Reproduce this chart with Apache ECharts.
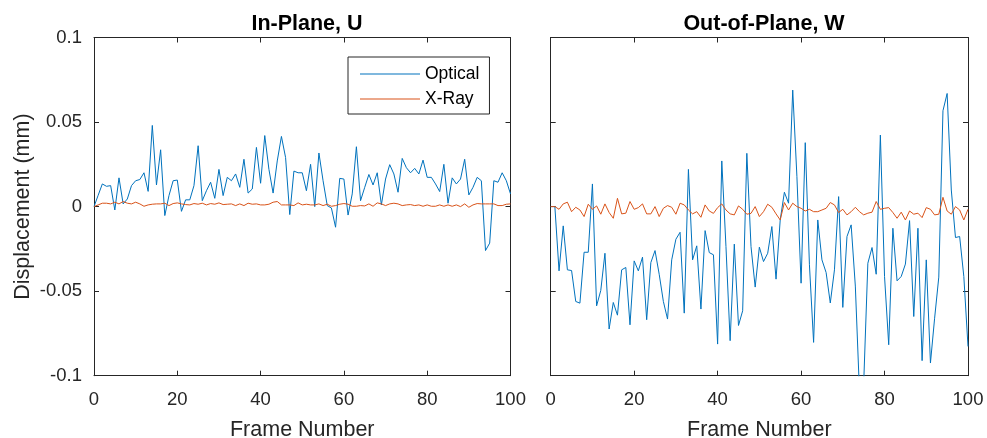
<!DOCTYPE html>
<html>
<head>
<meta charset="utf-8">
<script src="https://cdn.jsdelivr.net/npm/echarts@6/dist/echarts.min.js"></script>
<style>
html,body{margin:0;padding:0;background:#fff;}
#chart{width:987px;height:438px;}
</style>
</head>
<body>
<div id="chart"></div>
<script>
// Frame numbers 0..100
const frames = [];
for (let i = 0; i <= 100; i++) frames.push(i);

const panelTitles = ['In-Plane, U', 'Out-of-Plane, W'];
const seriesNames = ['Optical', 'X-Ray'];
const xTicks = [0, 20, 40, 60, 80, 100];
const yTicks = [-0.1, -0.05, 0, 0.05, 0.1];

// In-plane U, optical
const opticalU = [
  0, 0.0067, 0.0134, 0.012, 0.0124, -0.002, 0.017, 0.0016, 0.0045, 0.0124,
  0.0153, 0.016, 0.020, 0.009, 0.048, 0.0128, 0.0336, -0.0053, 0.0065, 0.0153,
  0.0157, -0.0028, 0.004, 0.004, 0.0124, 0.036, 0.0035, 0.0094, 0.0144, 0.0049,
  0.022, 0.0065, 0.0173, 0.0153, 0.0193, 0.0114, 0.028, 0.008, 0.0104, 0.035,
  0.0138, 0.042, 0.022, 0.008, 0.027, 0.0415, 0.029, -0.0047, 0.021, 0.020,
  0.020, 0.0094, 0.025, 0, 0.0317, 0.0153, 0.0006, -0.0008, -0.0122, 0.0167,
  0.0163, -0.005, 0.0075, 0.0354, 0.0035, 0.0114, 0.019, 0.0128, 0.020, 0.001,
  0.0163, 0.0248, 0.0193, 0.0085, 0.0285, 0.023, 0.020, 0.0226, 0.0193, 0.0275,
  0.0173, 0.0173, 0.0134, 0.0089, 0.025, 0.002, 0.017, 0.0134, 0.0163, 0.028,
  0.0069, 0.0114, 0.0173, 0.0153, -0.026, -0.0216, 0.0153, 0.0144, 0.020, 0.0153,
  0.0075
];

// In-plane U, X-ray
const xrayU = [
  0, 0.001, 0.002, 0.002, 0.0016, 0.0026, 0.0016, 0.003, 0.002, 0.0016,
  0.0026, 0.0016, 0.0002, 0.001, 0.0014, 0.0016, 0.0016, 0.002, 0.0006, 0.0018,
  0.0022, 0.0016, 0.0012, 0.001, 0.0018, 0.0014, 0.002, 0.001, 0.0018, 0.0014,
  0.0022, 0.0012, 0.0014, 0.0016, 0.0006, 0.0016, 0.0006, 0.002, 0.0014, 0.0016,
  0.001, 0.001, 0.0014, 0.0026, 0.003, 0.001, 0.001, 0.001, 0.0006, 0.0022,
  0.001, 0.0014, 0.001, 0.001, 0.0016, 0.0006, 0.0014, 0.0002, 0.0006, 0.0014,
  0.0018, 0.0014, 0.0002, 0.0002, 0.0006, 0.0004, 0.0016, 0.0002, 0.0022, 0.0016,
  0.0006, 0.0016, 0.002, 0.0016, 0.0006, 0.001, 0.0012, 0.0006, 0.001, 0.0002,
  0.001, 0.0002, 0.0002, 0.001, 0.0002, 0.001, 0.0002, 0.001, 0, 0.0016,
  -0.0004, 0.001, 0.0018, 0.0016, 0.0016, 0.0016, 0.0016, 0.0006, 0.0006, 0.0014,
  0.0016
];

// Out-of-plane W, optical
const opticalW = [
  0, 0, -0.038, -0.0114, -0.0374, -0.0378, -0.0561, -0.0571, -0.027, -0.027,
  0.0134, -0.0587, -0.0496, -0.0276, -0.0724, -0.0567, -0.0642, -0.0374, -0.036, -0.0699,
  -0.0321, -0.038, -0.0299, -0.0669, -0.0331, -0.026, -0.040, -0.0561, -0.0665, -0.0315,
  -0.0193, -0.0152, -0.063, 0.022, -0.0315, -0.0232, -0.0606, -0.0142, -0.0272, -0.0285,
  -0.0813, 0.027, -0.0236, -0.0793, -0.0222, -0.0703, -0.0616, 0.0315, -0.0236, -0.0476,
  -0.024, -0.0325, -0.0276, -0.0118, -0.0429, -0.0079, 0.0085, 0.002, 0.0689, 0.0177,
  -0.0453, 0.0378, -0.0344, -0.0803, -0.0079, -0.0315, -0.039, -0.057, -0.0374, 0.0059,
  -0.0596, -0.0177, -0.0108, -0.047, -0.11, -0.105, -0.0335, -0.0242, -0.04, 0.0423,
  -0.0413, -0.0817, -0.0128, -0.0439, -0.0413, -0.034, -0.0083, -0.065, -0.0128, -0.0911,
  -0.0315, -0.0925, -0.066, -0.0417, 0.0567, 0.0669, 0.0098, -0.0183, -0.0177, -0.0413,
  -0.0827
];

// Out-of-plane W, X-ray
const xrayW = [
  0, 0, -0.0016, 0.0016, 0.0026, -0.003, -0.0004, -0.002, -0.0059, 0.0014,
  -0.0016, 0.0004, -0.0045, 0.0016, -0.0035, -0.0069, 0.0049, -0.0043, -0.0039, 0.003,
  -0.0016, -0.0006, 0.0016, -0.0043, -0.0043, 0, -0.0059, -0.001, 0.0006, -0.0004,
  -0.0045, 0.002, 0.001, -0.002, -0.0043, -0.003, -0.0063, 0.001, -0.0026, -0.004,
  -0.0006, 0.0016, -0.002, -0.0043, -0.0049, 0.0004, -0.0016, -0.0045, -0.004, 0,
  -0.0059, -0.003, 0.0014, -0.0004, -0.0043, -0.0079, 0.0024, -0.002, 0.002, 0,
  -0.001, -0.0026, -0.0016, -0.003, -0.003, -0.002, -0.001, 0.0024, 0.001, -0.0035,
  -0.0016, -0.0049, -0.003, -0.0004, -0.003, -0.0049, -0.0039, -0.0033, 0.003, -0.0016,
  -0.001, -0.0006, -0.0035, -0.0069, -0.0033, -0.0079, -0.0026, -0.0045, -0.0039, -0.0065,
  -0.0006, -0.0016, -0.0049, -0.0045, 0.0055, -0.0026, -0.0045, 0, -0.002, -0.0079,
  -0.0016
];

const FONT = 'Liberation Sans, Arial, Helvetica, sans-serif';
const AX = '#262626';
const BLUE = '#0072BD';
const ORANGE = '#D95319';

function pairs(ys) { return frames.map((f, i) => [f, ys[i]]); }

function xAxisDef(grid, pos, labels) {
  return {
    type: 'value', gridIndex: grid, position: pos, min: 0, max: 100, interval: 20,
    axisLine: { show: true, onZero: false, lineStyle: { color: AX, width: 1 } },
    axisTick: { show: true, inside: true, length: 5, lineStyle: { color: AX } },
    axisLabel: { show: labels, fontSize: 18.5, color: AX, fontFamily: FONT, margin: 15,
      formatter: v => (xTicks.indexOf(v) >= 0 ? String(v) : '') },
    splitLine: { show: false },
    name: labels ? 'Frame Number' : '',
    nameLocation: 'middle', nameGap: 43,
    nameTextStyle: { fontSize: 21.5, color: AX, fontFamily: FONT }
  };
}
function yAxisDef(grid, pos, labels, name) {
  return {
    type: 'value', gridIndex: grid, position: pos, min: -0.1, max: 0.1, interval: 0.05,
    axisLine: { show: true, onZero: false, lineStyle: { color: AX, width: 1 } },
    axisTick: { show: true, inside: true, length: 5, lineStyle: { color: AX } },
    axisLabel: { show: labels, fontSize: 18.5, color: AX, fontFamily: FONT, margin: 12,
      formatter: v => { const r = Math.round(v * 100) / 100; return String(r); } },
    splitLine: { show: false },
    name: name || '', nameLocation: 'middle', nameGap: 60, nameRotate: 90,
    nameTextStyle: { fontSize: 21.5, color: AX, fontFamily: FONT }
  };
}

const chart = echarts.init(document.getElementById('chart'), null, { renderer: 'canvas' });
chart.setOption({
  animation: false,
  backgroundColor: '#ffffff',
  textStyle: { fontFamily: FONT },
  title: [
    { text: panelTitles[0], left: 302, top: 8, textAlign: 'center',
      textStyle: { fontSize: 21.5, fontWeight: 'bold', color: '#000', fontFamily: FONT } },
    { text: panelTitles[1], left: 759, top: 8, textAlign: 'center',
      textStyle: { fontSize: 21.5, fontWeight: 'bold', color: '#000', fontFamily: FONT } }
  ],
  legend: {
    data: seriesNames, orient: 'vertical', left: 348, top: 57,
    width: 142, backgroundColor: '#fff',
    borderColor: AX, borderWidth: 1, borderRadius: 0,
    padding: [7, 10, 5, 12], itemGap: 5, itemWidth: 60, itemHeight: 1,
    icon: 'rect',
    textStyle: { fontSize: 17.5, color: '#000', fontFamily: FONT, lineHeight: 20 },
    selectedMode: false
  },
  grid: [
    { left: 94, right: 476.5, top: 37.5, bottom: 62.3, containLabel: false, outerBoundsMode: 'none' },
    { left: 550.7, right: 19, top: 37.5, bottom: 62.3, containLabel: false, outerBoundsMode: 'none' }
  ],
  xAxis: [xAxisDef(0, 'bottom', true), xAxisDef(0, 'top', false),
          xAxisDef(1, 'bottom', true), xAxisDef(1, 'top', false)],
  yAxis: [yAxisDef(0, 'left', true, 'Displacement (mm)'), yAxisDef(0, 'right', false),
          yAxisDef(1, 'left', false), yAxisDef(1, 'right', false)],
  series: [
    { name: seriesNames[0], type: 'line', xAxisIndex: 0, yAxisIndex: 0, data: pairs(opticalU),
      symbol: 'none', clip: true, lineStyle: { color: BLUE, width: 1 }, itemStyle: { color: BLUE } },
    { name: seriesNames[1], type: 'line', xAxisIndex: 0, yAxisIndex: 0, data: pairs(xrayU),
      symbol: 'none', clip: true, lineStyle: { color: ORANGE, width: 1 }, itemStyle: { color: ORANGE } },
    { name: seriesNames[0], type: 'line', xAxisIndex: 2, yAxisIndex: 2, data: pairs(opticalW),
      symbol: 'none', clip: true, lineStyle: { color: BLUE, width: 1 }, itemStyle: { color: BLUE } },
    { name: seriesNames[1], type: 'line', xAxisIndex: 2, yAxisIndex: 2, data: pairs(xrayW),
      symbol: 'none', clip: true, lineStyle: { color: ORANGE, width: 1 }, itemStyle: { color: ORANGE } }
  ]
});
</script>
</body>
</html>
